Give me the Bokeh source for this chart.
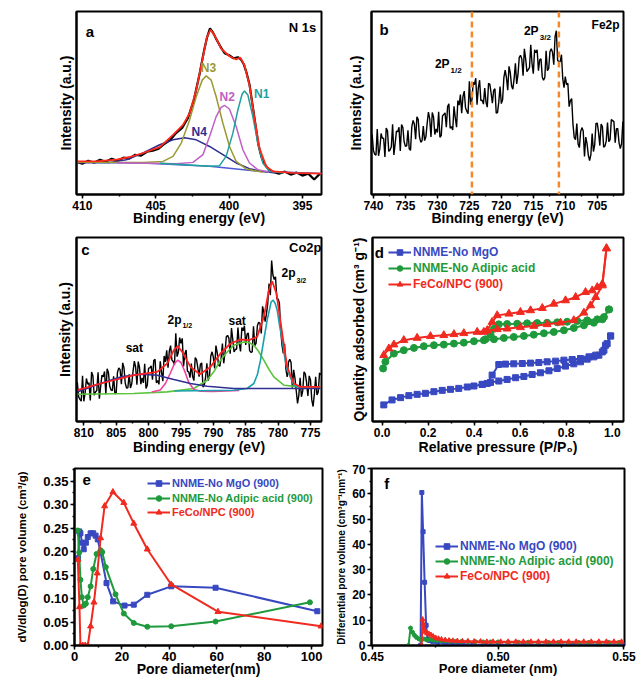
from bokeh.plotting import figure
from bokeh.layouts import column, row
from bokeh.models import (Range1d, Label, Span, Legend, LegendItem,
                          SingleIntervalTicker, FixedTicker, NumeralTickFormatter)
from bokeh.embed import file_html
from bokeh.resources import INLINE

FONT = "Liberation Sans"

# ---------------- (a) N 1s ----------------
n1s_be = [410.4, 410.0, 409.6, 409.2, 408.8, 408.4, 408.0, 407.6, 407.2, 406.8,
          406.4, 406.0, 405.6, 405.2, 404.8, 404.4, 404.0, 403.6, 403.2, 402.8,
          402.4, 402.0, 401.7, 401.5, 401.3, 401.1, 400.9, 400.6, 400.3, 400.0,
          399.7, 399.4, 399.2, 399.0, 398.8, 398.6, 398.4, 398.2, 398.0, 397.8,
          397.6, 397.3, 397.0, 396.6, 396.2, 395.8, 395.4, 395.0, 394.6, 394.2, 393.8]
n1s_raw = [33, 31, 34, 32, 35, 33, 36, 34, 37, 36,
           40, 39, 43, 44, 46, 51, 55, 62, 67, 77,
           95, 122, 145, 158, 167, 163, 157, 149, 142, 140,
           137, 138, 136, 131, 122, 110, 90, 70, 50, 38,
           31, 25, 23, 21, 23, 20, 22, 19, 21, 15, 21]
n1s_fit_be = [410.4, 409.04, 407.68, 406.77, 405.86, 404.73, 403.82, 403.14, 402.69, 402.24,
              401.78, 401.51, 401.26, 400.99, 400.54, 399.97, 399.52, 399.24, 398.95, 398.61,
              398.27, 397.93, 397.47, 397.02, 395.66, 393.67]
n1s_fit = [33.3, 33.3, 35, 37.7, 41.7, 47.7, 60, 70, 81.7, 105,
           138.3, 158.3, 165.7, 160, 146.7, 139, 135.7, 137.7, 130, 110,
           76.7, 46.7, 28.3, 23.3, 21.7, 21]
n1_be = [404.73, 401.33, 400.65, 400.20, 399.74, 399.40, 399.11, 398.95, 398.72, 398.38, 398.04, 397.70, 397.25, 396.34]
n1_y = [31.5, 28.3, 29, 38.3, 61.7, 85, 101, 104, 100, 78.3, 51.7, 31.7, 23.3, 21.7]
n2_be = [407.68, 403.60, 402.46, 401.78, 401.33, 400.88, 400.54, 400.31, 399.97, 399.52, 399.06, 398.61, 398.04, 397.25]
n2_y = [32, 31, 32.3, 40, 58.3, 78.3, 87.7, 89.7, 85.7, 68.3, 45, 31.7, 25, 22.3]
n3_be = [410.4, 405.86, 404.50, 403.82, 403.26, 402.69, 402.24, 401.83, 401.56, 401.22, 400.88, 400.42, 399.97, 399.52, 398.84, 397.70]
n3_y = [32.5, 32.3, 33.3, 38.3, 51.7, 75, 98.3, 115, 119.3, 115, 98.3, 71.7, 48.3, 33.3, 25.7, 22.3]
n4_be = [410.4, 408.13, 407.00, 405.86, 404.73, 403.82, 403.03, 402.24, 401.33, 400.42, 399.52, 398.61, 397.70, 396.79]
n4_y = [32.3, 32.3, 35, 41.7, 50, 55, 57, 55, 48.3, 40, 31.7, 26, 23, 21.7]
n1s_base_be = [410.4, 405.86, 401.33, 397.93, 393.67]
n1s_base = [32.3, 31.7, 28.3, 23.3, 21]

# ---------------- (b) Fe 2p ----------------
fe2p_be = [740.2, 740.0, 739.8, 739.6, 739.4, 739.2, 739.0, 738.8, 738.6, 738.4,
           738.2, 738.0, 737.8, 737.6, 737.4, 737.2, 737.0, 736.8, 736.6, 736.4,
           736.2, 736.0, 735.8, 735.6, 735.4, 735.2, 735.0, 734.8, 734.6, 734.4,
           734.2, 734.0, 733.8, 733.6, 733.4, 733.2, 733.0, 732.8, 732.6, 732.4,
           732.2, 732.0, 731.8, 731.6, 731.4, 731.2, 731.0, 730.8, 730.6, 730.4,
           730.2, 730.0, 729.8, 729.6, 729.4, 729.2, 729.0, 728.8, 728.6, 728.4,
           728.2, 728.0, 727.8, 727.6, 727.4, 727.2, 727.0, 726.8, 726.6, 726.4,
           726.2, 726.0, 725.8, 725.6, 725.4, 725.2, 725.0, 724.8, 724.6, 724.4,
           724.2, 724.0, 723.8, 723.6, 723.4, 723.2, 723.0, 722.8, 722.6, 722.4,
           722.2, 722.0, 721.8, 721.6, 721.4, 721.2, 721.0, 720.8, 720.6, 720.4,
           720.2, 720.0, 719.8, 719.6, 719.4, 719.2, 719.0, 718.8, 718.6, 718.4,
           718.2, 718.0, 717.8, 717.6, 717.4, 717.2, 717.0, 716.8, 716.6, 716.4,
           716.2, 716.0, 715.8, 715.6, 715.4, 715.2, 715.0, 714.8, 714.6, 714.4,
           714.2, 714.0, 713.8, 713.6, 713.4, 713.2, 713.0, 712.8, 712.6, 712.4,
           712.2, 712.0, 711.8, 711.6, 711.4, 711.2, 711.0, 710.8, 710.6, 710.4,
           710.2, 710.0, 709.8, 709.6, 709.4, 709.2, 709.0, 708.8, 708.6, 708.4,
           708.2, 708.0, 707.8, 707.6, 707.4, 707.2, 707.0, 706.8, 706.6, 706.4,
           706.2, 706.0, 705.8, 705.6, 705.4, 705.2, 705.0, 704.8, 704.6, 704.4,
           704.2, 704.0, 703.8, 703.6, 703.4, 703.2, 703.0, 702.8, 702.6, 702.4,
           702.2, 702.0, 701.8, 701.6, 701.4, 701.2, 701.0]
fe2p_raw = [60, 44.2, 40.3, 39.4, 65.6, 38.8, 45.9, 61.1, 56.2, 56.3,
            37.5, 66.6, 63.7, 43.2, 44.6, 47.9, 70.3, 39.7, 51.1, 63.5,
            62.9, 67.3, 43.7, 70, 67.4, 52.8, 48.2, 48.7, 64.2, 45.7,
            44.2, 67.7, 74.2, 70.7, 55.3, 77.8, 75.3, 57.9, 52.4, 53.9,
            68.5, 54, 57.5, 71, 82.6, 76.1, 57.6, 82.1, 77.6, 60.1,
            65.6, 62.2, 82.8, 57.4, 59, 78.6, 80.2, 81.8, 67.5, 88.2,
            90.8, 66.4, 68, 64.6, 88.3, 76.9, 67.5, 94, 89.5, 100,
            81.5, 98, 103.5, 87, 83.5, 81, 113.5, 90, 94.5, 112.3,
            110, 116.5, 90, 106.8, 114.5, 94, 94.5, 90.5, 106.5, 92.5,
            87.5, 111.5, 110.5, 101.5, 91.5, 104.3, 106, 81.5, 82, 92.5,
            108, 91, 95, 117.3, 124.5, 117, 104.5, 128.3, 122, 108.8,
            105.5, 116, 131.5, 110.8, 120, 137.3, 139.5, 135.7, 119, 146,
            136, 123, 125, 127, 150, 131, 121, 145, 142, 145,
            124, 135, 136, 117.8, 114.5, 117.2, 144, 124, 126, 143,
            146, 142.5, 130, 158, 164, 134.5, 133, 133, 140, 116,
            107, 118, 110, 111.5, 88, 94, 96, 70.5, 57, 55,
            71, 50.5, 47, 63, 67, 63.5, 38, 57.5, 51, 39.5,
            34, 40, 61, 43, 50, 71.3, 71.5, 62.2, 49, 70.5,
            68, 47.3, 48.5, 53.7, 72, 53, 55, 75, 74, 73,
            52, 66, 66, 52, 46, 51, 73]
fe2p_peaks = [724.6, 711.0]

# ---------------- (c) Co 2p ----------------
co2p_be = [811.0, 810.8, 810.6, 810.4, 810.2, 810.0, 809.8, 809.6, 809.4, 809.2,
           809.0, 808.8, 808.6, 808.4, 808.2, 808.0, 807.8, 807.6, 807.4, 807.2,
           807.0, 806.8, 806.6, 806.4, 806.2, 806.0, 805.8, 805.6, 805.4, 805.2,
           805.0, 804.8, 804.6, 804.4, 804.2, 804.0, 803.8, 803.6, 803.4, 803.2,
           803.0, 802.8, 802.6, 802.4, 802.2, 802.0, 801.8, 801.6, 801.4, 801.2,
           801.0, 800.8, 800.6, 800.4, 800.2, 800.0, 799.8, 799.6, 799.4, 799.2,
           799.0, 798.8, 798.6, 798.4, 798.2, 798.0, 797.8, 797.6, 797.4, 797.2,
           797.0, 796.8, 796.6, 796.4, 796.2, 796.0, 795.8, 795.6, 795.4, 795.2,
           795.0, 794.8, 794.6, 794.4, 794.2, 794.0, 793.8, 793.6, 793.4, 793.2,
           793.0, 792.8, 792.6, 792.4, 792.2, 792.0, 791.8, 791.6, 791.4, 791.2,
           791.0, 790.8, 790.6, 790.4, 790.2, 790.0, 789.8, 789.6, 789.4, 789.2,
           789.0, 788.8, 788.6, 788.4, 788.2, 788.0, 787.8, 787.6, 787.4, 787.2,
           787.0, 786.8, 786.6, 786.4, 786.2, 786.0, 785.8, 785.6, 785.4, 785.2,
           785.0, 784.8, 784.6, 784.4, 784.2, 784.0, 783.8, 783.6, 783.4, 783.2,
           783.0, 782.8, 782.6, 782.4, 782.2, 782.0, 781.8, 781.6, 781.4, 781.2,
           781.0, 780.8, 780.6, 780.4, 780.2, 780.0, 779.8, 779.6, 779.4, 779.2,
           779.0, 778.8, 778.6, 778.4, 778.2, 778.0, 777.8, 777.6, 777.4, 777.2,
           777.0, 776.8, 776.6, 776.4, 776.2, 776.0, 775.8, 775.6, 775.4, 775.2,
           775.0, 774.8, 774.6, 774.4, 774.2, 774.0, 773.8, 773.6, 773.4]
co2p_raw = [39.3, 24.7, 22.1, 20.4, 45.8, 20.2, 28.6, 43, 37.3, 38.7,
            21.1, 49.5, 45.8, 26.2, 29.6, 30.9, 49.3, 22.7, 35, 46.4,
            44.7, 50, 27.3, 52.7, 49, 35.3, 31.6, 30.9, 45.3, 27.6,
            28.9, 49.3, 53.6, 51.9, 37.2, 58.6, 53.9, 38.2, 33.5, 33.8,
            47.1, 33.5, 37.8, 50.1, 60.4, 54.5, 36.7, 59.9, 54.1, 37.3,
            43.5, 38.6, 57.8, 33, 36.2, 53.4, 53.6, 55.7, 41.9, 61.1,
            62.3, 38.7, 41, 37.1, 60.2, 49.3, 40.4, 65.5, 59.6, 71.1,
            53.7, 70.3, 75.9, 61.5, 60, 56.6, 88.3, 64.9, 69.5, 83.9,
            78.2, 83.1, 55.1, 67.8, 71.5, 50.1, 49.7, 43.8, 57.9, 44.9,
            40.9, 63.9, 61.9, 53.9, 44.9, 57.3, 58.6, 34.5, 36.4, 44.2,
            58.1, 41, 44.9, 65.3, 69.7, 64.4, 53.2, 76, 68.7, 56.5,
            55.2, 63.5, 77.9, 58.2, 68.5, 84.8, 86.1, 83.4, 67.7, 93.4,
            82, 69.5, 72, 72.5, 94, 77.5, 70, 93.9, 90.8, 95.7,
            76.6, 87.5, 88.4, 70.8, 69.1, 69.6, 95.2, 75.7, 78.2, 95.8,
            99.3, 98.2, 88.1, 115.1, 109, 99.8, 107.6, 118.2, 138, 126.4,
            161, 146.5, 142, 144.8, 122.7, 122.6, 118.5, 91.5, 76.4, 68,
            77.6, 52.6, 44.6, 59.4, 62.2, 58.9, 33.7, 51.6, 43.4, 30.8,
            18, 26.4, 43.8, 24.7, 30.6, 49.6, 47.6, 38.6, 25.6, 45.6,
            41.6, 21.6, 15, 27.6, 44.6, 26.6, 29.6, 48.6, 46.6]
co2p_fit_be = [811.02, 807.42, 802.28, 798.67, 797.13, 796.1, 795.49, 794.81, 793.53, 792.09,
               790.44, 788.9, 787.35, 785.81, 784.52, 783.24, 782.21, 781.8, 781.43, 780.92,
               780.25, 779.37, 778.6, 777.57, 776.54, 773.45]
co2p_fit = [31.3, 38, 46.3, 49.6, 58, 71.3, 75.3, 69.6, 54.6, 47.3,
            54.6, 68, 78, 82, 81.3, 84.6, 104.6, 118, 131.3, 140.3,
            128, 88, 54.6, 38, 34.6, 34.6]
co_sat1_be = [811.02, 807.42, 804.34, 801.25, 798.67, 796.1, 793.53, 790.96, 786.84, 781.69, 773.45]
co_sat1 = [29.6, 38, 44.6, 47.3, 46.3, 42, 38, 35.3, 33, 33, 33]
co_p12_be = [799.5, 798.2, 797.4, 796.6, 796.0, 795.5, 795.0, 794.4, 793.8, 793.0, 792.0, 790.0, 786.0]
co_p12 = [29.5, 31.5, 38, 49, 58, 61.3, 59, 50, 39, 32, 30.2, 30, 31]
co_sat2_be = [811.02, 802.28, 797.13, 793.02, 790.96, 789.9, 788.9, 787.8, 786.84, 785.29,
              784.5, 783.75, 783.0, 782.21, 781.4, 780.66, 779.11, 776.54, 773.45]
co_sat2 = [27.3, 28, 29.6, 33, 41.3, 50, 61.3, 70, 76.3, 79.6,
           79, 76.3, 70, 61.3, 52, 44.6, 36.3, 34.6, 34.6]
co_p32_be = [796.0, 786.84, 784.78, 783.75, 783.2, 782.72, 782.2, 781.69, 781.07, 780.76,
             780.45, 780.14, 779.8, 779.37, 779.0, 778.6, 777.57, 776.54, 773.45]
co_p32 = [30.5, 31.3, 33, 38, 47, 61.3, 82, 101.3, 119.6, 121.3,
          118, 111.3, 97, 81.3, 65, 51.3, 36.3, 34, 33]

# ---------------- (d) N2 isotherms ----------------
mgo_ads_p = [0.007, 0.043, 0.080, 0.116, 0.152, 0.188, 0.225, 0.261, 0.297, 0.333, 0.370, 0.399,
             0.435, 0.471, 0.507, 0.543, 0.580, 0.616, 0.652, 0.688, 0.725, 0.761, 0.797, 0.833,
             0.862, 0.891, 0.920, 0.942, 0.964, 0.978, 0.993]
mgo_ads_q = [16.7, 21.7, 24, 26, 27.3, 28.3, 30, 31.3, 32.3, 33.3, 34.7, 35.7,
             37.3, 39.3, 40.7, 42.3, 44, 45.3, 47.3, 49, 51, 53.3, 55.7, 58,
             60, 62.7, 65, 66.7, 71.7, 78.3, 86]
mgo_des_p = [0.993, 0.971, 0.957, 0.928, 0.899, 0.862, 0.826, 0.790, 0.754, 0.717, 0.681, 0.645,
             0.609, 0.572, 0.536, 0.507, 0.478, 0.457, 0.435]
mgo_des_q = [86, 76.7, 70, 66.7, 65, 63.3, 62.3, 61.7, 60.7, 60, 59.3, 58.7,
             58.3, 58, 57.7, 57.3, 46.7, 38.3, 37.3]
adip_ads_p = [0.004, 0.014, 0.051, 0.094, 0.138, 0.181, 0.225, 0.268, 0.312, 0.355, 0.399, 0.442,
              0.486, 0.529, 0.572, 0.616, 0.659, 0.703, 0.746, 0.790, 0.833, 0.877, 0.920, 0.957, 0.986]
adip_ads_q = [53.3, 60, 68.3, 71.7, 74, 75.7, 76.7, 77.3, 78.3, 79.3, 80.7, 81.7,
              82.7, 84, 85, 86, 87.3, 88.7, 90, 91.7, 94, 96.7, 99.3, 102.7, 112.7]
adip_des_p = [0.986, 0.964, 0.935, 0.891, 0.848, 0.804, 0.761, 0.717, 0.674, 0.630, 0.587, 0.543,
              0.507, 0.486, 0.471, 0.449]
adip_des_q = [112.7, 105, 102.7, 101.7, 101, 100.3, 99.7, 99.3, 99, 98.7, 98.3, 98,
              97.7, 93.3, 87.3, 82.7]
feco_ads_p = [0.007, 0.029, 0.051, 0.094, 0.152, 0.210, 0.268, 0.312, 0.355, 0.413, 0.457, 0.500,
              0.543, 0.601, 0.659, 0.717, 0.775, 0.833, 0.877, 0.906, 0.928, 0.957, 0.975]
feco_ads_q = [66.7, 73.3, 77.3, 81.7, 84, 85.7, 86.7, 87.7, 88.7, 90, 91.3, 92.7,
              93.3, 94.7, 96, 97.7, 99.3, 101.7, 109.3, 116.7, 125, 136.7, 174]
feco_des_p = [0.975, 0.957, 0.935, 0.913, 0.884, 0.841, 0.797, 0.746, 0.696, 0.645, 0.601, 0.551,
              0.500, 0.478, 0.457, 0.442]
feco_des_q = [174, 138.3, 135, 131.7, 130, 125, 121.7, 118.3, 114, 111.7, 110, 108.3,
              106.7, 100, 91.7, 90]

# ---------------- (e) BJH pore size distribution ----------------
e_mgo_d = [1.5, 2.0, 2.5, 3.2, 3.9, 4.8, 5.6, 6.8, 7.9, 8.9, 9.8, 11.0, 13.5, 16.3, 21.1, 25.0, 30.7, 40.8, 59.5, 102.4]
e_mgo_v = [0.186, 0.243, 0.239, 0.219, 0.205, 0.219, 0.231, 0.239, 0.239, 0.234, 0.226, 0.198, 0.133, 0.094, 0.085, 0.087, 0.108, 0.126, 0.123, 0.073]
e_adip_d = [1.4, 2.0, 2.5, 3.1, 3.9, 4.8, 5.6, 6.8, 7.9, 9.3, 11.0, 11.7, 13.2, 17.3, 20.8, 25.0, 30.7, 40.8, 59.5, 99.3]
e_adip_v = [0.245, 0.198, 0.140, 0.103, 0.085, 0.089, 0.103, 0.126, 0.163, 0.195, 0.203, 0.199, 0.167, 0.109, 0.068, 0.048, 0.040, 0.041, 0.051, 0.092]
e_feco_d = [1.4, 2.1, 2.5, 3.5, 4.5, 5.6, 6.8, 8.2, 9.6, 11.0, 12.7, 16.2, 20.8, 25.0, 30.7, 40.8, 60.5, 104.0]
e_feco_v = [0.183, 0.082, 0.0, 0.0, 0.0, 0.0, 0.041, 0.092, 0.154, 0.229, 0.297, 0.327, 0.304, 0.260, 0.205, 0.130, 0.072, 0.041]

# ---------------- (f) micropore distribution ----------------
f_mgo_d = [0.4692, 0.4697, 0.4702, 0.4708, 0.4714, 0.4720, 0.4728, 0.474, 0.476, 0.479, 0.482, 0.486,
           0.490, 0.495, 0.500, 0.510, 0.520, 0.530, 0.540, 0.550]
f_mgo_v = [0, 60.5, 45, 25, 8, 2.5, 2.0, 1.6, 1.2, 0.9, 0.7, 0.5,
           0.4, 0.3, 0.3, 0.3, 0.3, 0.3, 0.3, 0.3]
f_adip_d = [0.4644, 0.4652, 0.4660, 0.4668, 0.4676, 0.4685, 0.4695, 0.4705, 0.4716, 0.4728, 0.4742, 0.4757,
            0.4773, 0.479, 0.481, 0.483, 0.4855, 0.488, 0.491, 0.494, 0.497, 0.500, 0.504, 0.508,
            0.512, 0.516, 0.520, 0.524, 0.528, 0.532, 0.536, 0.540, 0.544, 0.548]
f_adip_v = [0, 6.9, 5.2, 4.0, 3.2, 2.6, 2.3, 2.6, 2.2, 2.4, 2.1, 2.0,
            1.9, 1.8, 1.7, 1.6, 1.6, 1.5, 1.5, 1.4, 1.4, 1.4, 1.3, 1.3,
            1.3, 1.3, 1.2, 1.2, 1.2, 1.2, 1.2, 1.2, 1.2, 1.2]
f_feco_d = [0.4696, 0.4700, 0.4703, 0.4707, 0.4712, 0.4718, 0.4725, 0.4733, 0.4742, 0.4752, 0.4763, 0.4775,
            0.479, 0.4805, 0.482, 0.4838, 0.4858, 0.488, 0.4905, 0.493, 0.4955, 0.498, 0.501, 0.504,
            0.507, 0.510, 0.513, 0.516, 0.519, 0.522, 0.525, 0.528, 0.531, 0.534, 0.537, 0.540,
            0.543, 0.546, 0.549]
f_feco_v = [0, 10.3, 8.5, 6.2, 5.4, 4.8, 4.6, 4.2, 3.6, 3.0, 2.7, 2.4,
            2.2, 2.0, 1.9, 1.8, 1.7, 1.7, 1.6, 1.6, 1.5, 1.5, 1.5, 1.5,
            1.5, 1.5, 1.5, 1.5, 1.5, 1.5, 1.5, 1.5, 1.5, 1.5, 1.5, 1.5,
            1.5, 1.5, 1.5]

BLUE = "#3848c0"
GREEN = "#1e9a3c"
RED = "#f02a20"


def base_fig(width, height, xr, yr, borders, xlabel, ylabel, tick_size="12px",
             label_size="14px", ylabel_size=None, x_std=(2, -3), y_std=(2, 3)):
    p = figure(width=width, height=height, x_range=Range1d(*xr), y_range=Range1d(*yr),
               output_backend="svg", toolbar_location=None, tools="")
    p.min_border_left, p.min_border_right, p.min_border_top, p.min_border_bottom = borders
    p.xgrid.visible = False
    p.ygrid.visible = False
    p.outline_line_color = "black"
    p.outline_line_width = 2
    p.outline_line_alpha = 1.0
    p.background_fill_color = "white"
    p.border_fill_color = "white"
    for ax, std in ((p.xaxis[0], x_std), (p.yaxis[0], y_std)):
        ax.axis_line_width = 2
        ax.axis_line_color = "black"
        ax.major_tick_in = 0
        ax.major_tick_out = 4
        ax.minor_tick_in = 0
        ax.minor_tick_out = 2
        ax.major_tick_line_width = 1.5
        ax.minor_tick_line_width = 1.5
        ax.major_label_text_font = FONT
        ax.major_label_text_font_style = "bold"
        ax.major_label_text_font_size = tick_size
        ax.major_label_text_color = "black"
        ax.axis_label_text_font = FONT
        ax.axis_label_text_font_style = "bold"
        ax.axis_label_text_font_size = label_size
        ax.axis_label_text_color = "black"
        ax.major_label_standoff = std[0]
        ax.axis_label_standoff = std[1]
    if ylabel_size:
        p.yaxis.axis_label_text_font_size = ylabel_size
    p.xaxis.axis_label = xlabel
    p.yaxis.axis_label = ylabel
    return p


def no_yticks(p):
    p.yaxis.ticker = FixedTicker(ticks=[])


def txt(p, x, y, text, size="12px", color="black", align="center"):
    p.add_layout(Label(x=x, y=y, text=text, text_font=FONT, text_font_style="bold",
                       text_font_size=size, text_color=color, text_align=align,
                       text_baseline="middle"))


def legend_item(p, label, renderers, loc, color, size="12px"):
    lg = Legend(items=[LegendItem(label=label, renderers=renderers)], location=loc,
                background_fill_alpha=0, border_line_alpha=0, padding=0, margin=0, spacing=0,
                glyph_width=23, glyph_height=14, label_height=14, label_standoff=2,
                label_text_font=FONT, label_text_font_style="bold",
                label_text_font_size=size, label_text_color=color)
    p.add_layout(lg)


# ---- panel a
pa = base_fig(330, 236, (410.4, 393.7), (0, 184), (76, 9, 11, 41),
              "Binding energy (eV)", "Intensity (a.u.)", y_std=(0, 3))
pa.xaxis.ticker = SingleIntervalTicker(interval=5, num_minor_ticks=2)
no_yticks(pa)
pa.line(n1s_be, n1s_raw, color="black", line_width=2.2)
pa.line(n1s_base_be, n1s_base, color="#4a5ad0", line_width=1.5)
pa.line(n4_be, n4_y, color="#2e2e8e", line_width=1.5)
pa.line(n3_be, n3_y, color="#9a9a30", line_width=1.5)
pa.line(n2_be, n2_y, color="#c060c4", line_width=1.5)
pa.line(n1_be, n1_y, color="#1ea0a0", line_width=1.5)
pa.line(n1s_fit_be, n1s_fit, color="#ff2a1a", line_width=1.8)
txt(pa, 409.48, 164, "a", "15px")
txt(pa, 394.99, 168, "N 1s", "13px")
txt(pa, 401.4, 127.5, "N3", "12px", "#9a9a30")
txt(pa, 400.13, 98, "N2", "12px", "#c060c4")
txt(pa, 397.77, 101.5, "N1", "12px", "#1ea0a0")
txt(pa, 402.03, 62.5, "N4", "12px", "#2e2e8e")

# ---- panel b
pb = base_fig(306, 236, (740.3, 700.9), (0, 183.3), (41, 13, 11, 42),
              "Binding energy (eV)", "Intensity (a.u.)", y_std=(0, 8))
pb.xaxis.ticker = SingleIntervalTicker(interval=5, num_minor_ticks=2)
no_yticks(pb)
pb.line(fe2p_be, fe2p_raw, color="black", line_width=1.4)
for loc in fe2p_peaks:
    pb.add_layout(Span(location=loc, dimension="height", line_color="#f5892a",
                       line_dash="6 4", line_width=2.5))
txt(pb, 738.34, 165, "b", "15px")
txt(pb, 703.7, 170, "Fe2p", "12px")
txt(pb, 728.09, 130.3, "2P", "12px", align="right")
txt(pb, 727.94, 124.3, "1/2", "8px", align="left")
txt(pb, 714.17, 163.3, "2P", "12px", align="right")
txt(pb, 714.0, 157.3, "3/2", "8px", align="left")

# ---- panel c
pc = base_fig(330, 228, (811.13, 773.3), (0, 184), (76, 9, 1, 43),
              "Binding energy (eV)", "Intensity (a.u.)", x_std=(2, -1), y_std=(0, 4))
pc.xaxis.ticker = SingleIntervalTicker(interval=5, num_minor_ticks=2)
no_yticks(pc)
pc.line(co2p_be, co2p_raw, color="black", line_width=1.4)
pc.line(co_sat2_be, co_sat2, color="#5cc43c", line_width=1.6)
pc.line(co_p12_be, co_p12, color="#f040a0", line_width=1.6)
pc.line(co_p32_be, co_p32, color="#1aa0ae", line_width=1.6)
pc.line(co_sat1_be, co_sat1, color="#303094", line_width=1.6)
pc.line(co2p_fit_be, co2p_fit, color="#ff2020", line_width=1.8)
txt(pc, 809.74, 172, "c", "15px")
txt(pc, 773.3, 174.3, "Co2p", "13px", align="right")
txt(pc, 802.2, 73.8, "sat", "12px")
txt(pc, 786.32, 100.3, "sat", "12px")
txt(pc, 794.92, 101.3, "2p", "12px", align="right")
txt(pc, 794.77, 96.3, "1/2", "7px", align="left")
txt(pc, 777.32, 148.3, "2p", "12px", align="right")
txt(pc, 777.16, 141.3, "3/2", "7px", align="left")

# ---- panel d
pd_ = base_fig(306, 228, (-0.042, 1.049), (0, 185), (42, 13, 1, 43),
               "Relative pressure (P/P\u2080)", "Quantity adsorbed (cm\u00b3 g\u207b\u00b9)",
               x_std=(2, -1), y_std=(0, 6))
pd_.xaxis.ticker = SingleIntervalTicker(interval=0.2, num_minor_ticks=2)
pd_.xaxis.formatter = NumeralTickFormatter(format="0.0")
no_yticks(pd_)
rb1 = pd_.line(mgo_ads_p, mgo_ads_q, color=BLUE, line_width=2)
pd_.line(mgo_des_p, mgo_des_q, color=BLUE, line_width=2)
sb1 = pd_.scatter(mgo_ads_p, mgo_ads_q, marker="square", size=6, color=BLUE)
pd_.scatter(mgo_des_p, mgo_des_q, marker="square", size=6, color=BLUE)
rg1 = pd_.line(adip_ads_p, adip_ads_q, color=GREEN, line_width=2)
pd_.line(adip_des_p, adip_des_q, color=GREEN, line_width=2)
sg1 = pd_.scatter(adip_ads_p, adip_ads_q, marker="circle", size=7, color=GREEN)
pd_.scatter(adip_des_p, adip_des_q, marker="circle", size=7, color=GREEN)
rr1 = pd_.line(feco_ads_p, feco_ads_q, color=RED, line_width=2)
pd_.line(feco_des_p, feco_des_q, color=RED, line_width=2)
sr1 = pd_.scatter(feco_ads_p, feco_ads_q, marker="triangle", size=8, color=RED)
pd_.scatter(feco_des_p, feco_des_q, marker="triangle", size=8, color=RED)
txt(pd_, -0.012, 170, "d", "15px")
legend_item(pd_, "NNME-No MgO", [rb1, sb1], (16, 162), BLUE)
legend_item(pd_, "NNME-No Adipic acid", [rg1, sg1], (16, 146), GREEN)
legend_item(pd_, "FeCo/NPC (900)", [rr1, sr1], (16, 130), RED)

# ---- panel e
pe = base_fig(330, 223, (0, 104.6), (0, 0.377), (74, 8, 1, 42),
              "Pore diameter(nm)", "dV/dlog(D) pore volume (cm\u00b3/g)", tick_size="13px",
              ylabel_size="11.5px", y_std=(2, 12))
pe.xaxis.ticker = SingleIntervalTicker(interval=20, num_minor_ticks=2)
pe.yaxis.ticker = SingleIntervalTicker(interval=0.05, num_minor_ticks=2)
pe.yaxis.formatter = NumeralTickFormatter(format="0.00")
eb = pe.line(e_mgo_d, e_mgo_v, color=BLUE, line_width=2)
ebs = pe.scatter(e_mgo_d, e_mgo_v, marker="square", size=5, color=BLUE)
eg = pe.line(e_adip_d, e_adip_v, color=GREEN, line_width=2)
egs = pe.scatter(e_adip_d, e_adip_v, marker="circle", size=5, color=GREEN)
er = pe.line(e_feco_d, e_feco_v, color=RED, line_width=2)
ers = pe.scatter(e_feco_d, e_feco_v, marker="triangle", size=6, color=RED)
txt(pe, 5.1, 0.353, "e", "15px")
legend_item(pe, "NNME-No MgO (900)", [eb, ebs], (73, 155), BLUE, "11px")
legend_item(pe, "NNME-No Adipic acid (900)", [eg, egs], (73, 140), GREEN, "11px")
legend_item(pe, "FeCo/NPC (900)", [er, ers], (73, 126), RED, "11px")

# ---- panel f
pf = base_fig(306, 223, (0.4497, 0.5502), (0, 70), (41, 12, 4, 40),
              "Pore diameter (nm)", "Differential pore volume (cm\u00b3g\u207b\u00b9nm\u207b\u00b9)",
              label_size="13px", ylabel_size="10px", x_std=(2, -3), y_std=(2, 2))
pf.xaxis.ticker = SingleIntervalTicker(interval=0.05, num_minor_ticks=2)
pf.xaxis.formatter = NumeralTickFormatter(format="0.00")
pf.yaxis.ticker = SingleIntervalTicker(interval=10, num_minor_ticks=2)
fb = pf.line(f_mgo_d, f_mgo_v, color=BLUE, line_width=2)
fbs = pf.scatter(f_mgo_d, f_mgo_v, marker="square", size=4, color=BLUE)
fg = pf.line(f_adip_d, f_adip_v, color=GREEN, line_width=2)
fgs = pf.scatter(f_adip_d, f_adip_v, marker="circle", size=4, color=GREEN)
fr = pf.line(f_feco_d, f_feco_v, color=RED, line_width=2)
frs = pf.scatter(f_feco_d, f_feco_v, marker="triangle", size=5, color=RED)
txt(pf, 0.4558, 64.1, "f", "15px")
legend_item(pf, "NNME-No MgO (900)", [fb, fbs], (64, 92), BLUE)
legend_item(pf, "NNME-No Adipic acid (900)", [fg, fgs], (64, 77), GREEN)
legend_item(pf, "FeCo/NPC (900)", [fr, frs], (64, 62), RED)

layout = column(row(pa, pb), row(pc, pd_), row(pe, pf))
open("out.html", "w").write(file_html(layout, INLINE))
